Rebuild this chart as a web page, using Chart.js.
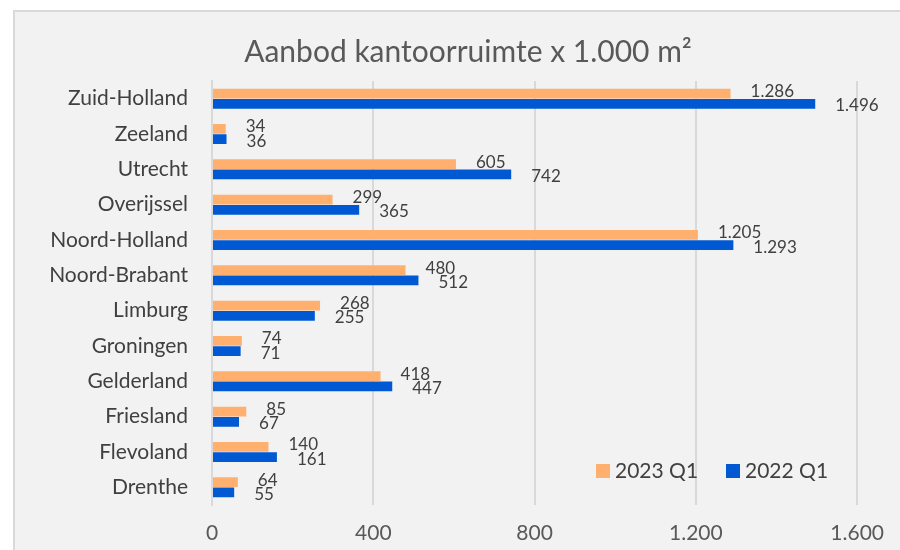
<!DOCTYPE html>
<html>
<head>
<meta charset="utf-8">
<script src="https://cdn.jsdelivr.net/npm/chart.js@4.4.1/dist/chart.umd.min.js"></script>
<style>
  html, body { margin: 0; padding: 0; background: #ffffff; }
  #chart { display: block; }
</style>
</head>
<body>
<canvas id="chart" width="900" height="550"></canvas>
<script>
const titleText = 'Aanbod kantoorruimte x 1.000 m²';
const provinces = ['Zuid-Holland', 'Zeeland', 'Utrecht', 'Overijssel', 'Noord-Holland', 'Noord-Brabant',
    'Limburg', 'Groningen', 'Gelderland', 'Friesland', 'Flevoland', 'Drenthe'];
const seriesNames = ['2023 Q1', '2022 Q1'];
const values2023 = [1286, 34, 605, 299, 1205, 480, 268, 74, 418, 85, 140, 64];
const values2022 = [1496, 36, 742, 365, 1293, 512, 255, 71, 447, 67, 161, 55];
const xTicks = [0, 400, 800, 1200, 1600];

const ORANGE = '#ffb06e';
const BLUE = '#0058d2';
const FONT = 'Lato, "Open Sans", sans-serif';

// dutch thousands separator: 1286 -> 1.286
function fmt(v) {
    return String(v).replace(/\B(?=(\d{3})+(?!\d))/g, '.');
}

// grey panel + title + legend drawn around the plot
const framePlugin = {
    id: 'frame',
    beforeDraw(chart) {
        const ctx = chart.ctx;
        ctx.save();
        ctx.fillStyle = '#f2f2f2';
        ctx.fillRect(13, 10, chart.width - 13, chart.height - 10);
        ctx.fillStyle = '#d9d9d9';
        ctx.fillRect(13, 10, chart.width - 13, 2);
        ctx.fillRect(13, 10, 2, chart.height - 10);
        ctx.restore();
    },
    afterDraw(chart) {
        const ctx = chart.ctx;
        ctx.save();
        ctx.fillStyle = '#595959';
        ctx.font = '30px ' + FONT;
        ctx.textAlign = 'center';
        ctx.textBaseline = 'alphabetic';
        ctx.fillText(titleText, 468, 62);

        // legend, inside the plot at bottom right
        ctx.font = '21px ' + FONT;
        ctx.textAlign = 'left';
        ctx.textBaseline = 'middle';
        let x = 596;
        chart.data.datasets.forEach(ds => {
            ctx.fillStyle = ds.backgroundColor;
            ctx.fillRect(x, 464, 14, 14);
            ctx.fillStyle = '#404040';
            ctx.fillText(ds.label, x + 19, 471);
            x += 130;
        });
        ctx.restore();
    }
};

// value labels to the right of every bar
const valueLabels = {
    id: 'valueLabels',
    afterDatasetsDraw(chart) {
        const ctx = chart.ctx;
        ctx.save();
        ctx.font = '17px ' + FONT;
        ctx.fillStyle = '#404040';
        ctx.textAlign = 'left';
        ctx.textBaseline = 'middle';
        chart.data.datasets.forEach((ds, i) => {
            const meta = chart.getDatasetMeta(i);
            meta.data.forEach((bar, j) => {
                const dy = i === 0 ? -2 : 2;
                ctx.fillText(fmt(ds.data[j]), bar.x + 20, bar.y + dy);
            });
        });
        ctx.restore();
    }
};

const chart = new Chart(document.getElementById('chart').getContext('2d'), {
    type: 'bar',
    data: {
        labels: provinces,
        datasets: [
            { label: seriesNames[0], data: values2023, backgroundColor: ORANGE },
            { label: seriesNames[1], data: values2022, backgroundColor: BLUE }
        ]
    },
    options: {
        indexAxis: 'y',
        responsive: false,
        animation: false,
        devicePixelRatio: 1,
        categoryPercentage: 0.58,
        barPercentage: 0.95,
        layout: { padding: { top: 81, left: 13, right: 38, bottom: 0 } },
        plugins: {
            legend: { display: false },
            title: { display: false },
            tooltip: { enabled: false }
        },
        scales: {
            x: {
                min: 0,
                max: 1600,
                afterBuildTicks: scale => { scale.ticks = xTicks.map(v => ({ value: v })); },
                afterFit: scale => { scale.height = 45; },
                grid: { color: '#d9d9d9', lineWidth: 2, drawTicks: false },
                border: { display: false },
                ticks: {
                    padding: 16,
                    color: '#595959',
                    font: { family: FONT, size: 21 },
                    callback: v => fmt(v)
                }
            },
            y: {
                afterFit: scale => { scale.width = 199; },
                grid: { display: false, drawTicks: false },
                border: { display: true, color: '#d9d9d9', width: 2 },
                ticks: {
                    padding: 24,
                    color: '#404040',
                    font: { family: FONT, size: 21 }
                }
            }
        }
    },
    plugins: [framePlugin, valueLabels]
});
</script>
</body>
</html>
